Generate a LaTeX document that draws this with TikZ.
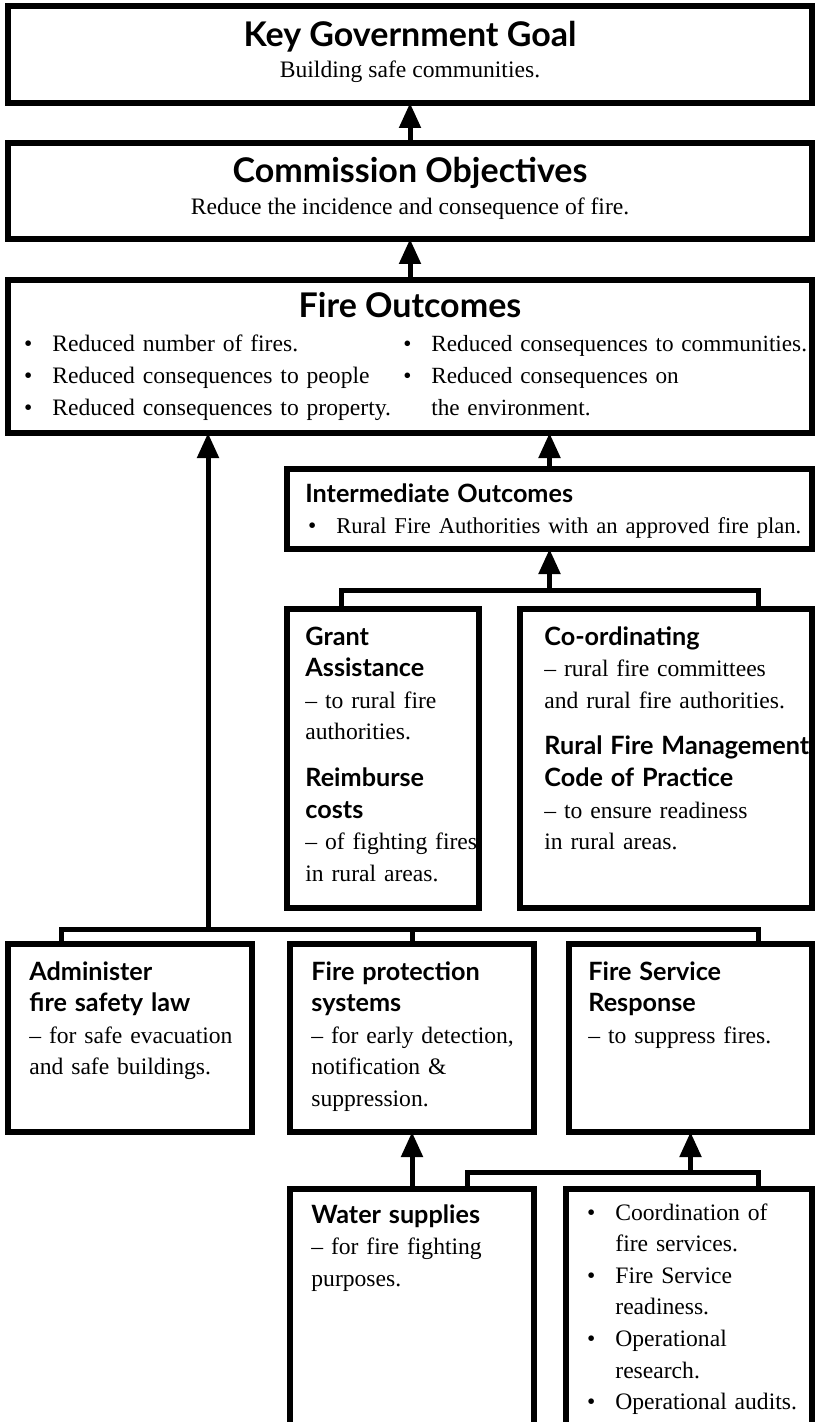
\documentclass[tikz,border=0pt]{standalone}
\usepackage{fontspec}
\setmainfont{Liberation Serif}
\newfontfamily\headfont{Lato}
\usetikzlibrary{arrows.meta,fit}

\newcommand\hd[1]{{\headfont\bfseries\fontsize{12.6}{15.8}\selectfont #1}}
\newcommand\bul{\makebox[0pt][r]{\textbullet\hspace{10pt}}}

\begin{document}
\begin{tikzpicture}[x=0.5pt, y=-0.5pt,
    box/.style={draw, line width=3pt, inner sep=0pt, outer sep=0pt},
    conn/.style={line width=2.5pt},
    arr/.style={conn, -{Triangle[length=12.5pt, width=10.5pt]}},
    bigtitle/.style={font=\headfont\bfseries\fontsize{17}{20}\selectfont, anchor=base, inner sep=0pt},
    centre/.style={font=\fontsize{11.8}{15.8}\selectfont, anchor=base, inner sep=0pt},
    body/.style={font=\fontsize{11.8}{15.8}\selectfont, text width=300pt, align=left, anchor=base west, inner sep=0pt}
]
\clip (0,0) rectangle (816,1422);

% Goal, objectives and outcomes
\node[box, fit={(8,6) (812,103)}] (goal) {};
\node[bigtitle] (goalT) at (410,47) {Key Government Goal};
\node[centre] (goalS) at (410,78) {Building safe communities.};

\node[box, fit={(8,143) (812,239)}] (obj) {};
\node[bigtitle] (objT) at (410,183) {Commission Objectives};
\node[centre] (objS) at (410,215) {Reduce the incidence and consequence of fire.};

\node[box, fit={(8,280) (812,433)}] (outc) {};
\node[bigtitle] (outcT) at (410,318) {Fire Outcomes};
\node[body] (outcL) at (52,352) {\bul Reduced number of fires.\\ \bul Reduced consequences to people\\ \bul Reduced consequences to property.};
\node[body, font=\fontsize{11.6}{15.8}\selectfont] (outcR) at (431,352) {\bul Reduced consequences to communities.\\ \bul Reduced consequences on\\ the environment.};

% Rural fire branch
\node[box, fit={(287,469) (812,549)}] (intm) {};
\node[body] (intmT) at (305,502) {\hd{Intermediate Outcomes}\\ \hspace*{15.5pt}\bul{\fontsize{11.3}{15.8}\selectfont Rural Fire Authorities with an approved fire plan.}};

\node[box, fit={(287,609) (479,908)}] (grant) {};
\node[body] (grantT) at (305,645) {\hd{Grant\\ Assistance}\\ \textendash\ to rural fire\\ authorities.\\[7.5pt] \hd{Reimburse\\ costs}\\ \textendash\ of fighting fires\\ in rural areas.};

\node[box, fit={(520,609) (812,908)}] (coord) {};
\node[body] (coordT) at (544,645) {\hd{Co-ordinating}\\ \textendash\ rural fire committees\\ and rural fire authorities.\\[7.5pt] \hd{Rural Fire Management\\ Code of Practice}\\ \textendash\ to ensure readiness\\ in rural areas.};

% Outputs
\node[box, fit={(8,944) (252,1132)}] (law) {};
\node[body] (lawT) at (29,980) {\hd{Administer\\ fire safety law}\\ \textendash\ for safe evacuation\\ and safe buildings.};

\node[box, fit={(290,944) (534,1132)}] (fpsys) {};
\node[body] (fpsysT) at (311,980) {\hd{Fire protection\\ systems}\\ \textendash\ for early detection,\\ notification \&\\ suppression.};

\node[box, fit={(569,944) (812,1132)}] (resp) {};
\node[body] (respT) at (588,980) {\hd{Fire Service\\ Response}\\ \textendash\ to suppress fires.};

\node[box, fit={(290,1189) (534,1460)}] (water) {};
\node[body] (waterT) at (311,1223) {\hd{Water supplies}\\ \textendash\ for fire fighting\\ purposes.};

\node[box, fit={(566,1189) (812,1460)}] (ops) {};
\node[body] (opsT) at (615,1220) {\bul Coordination of\\ fire services.\\ \bul Fire Service\\ readiness.\\ \bul Operational\\ research.\\ \bul Operational audits.};

% Connectors
\coordinate (j1) at (549.5,590);
\coordinate (j2) at (208,929);
\coordinate (j3) at (690.5,1172);

\draw[arr] (obj.north) -- (goal.south);
\draw[arr] (outc.north) -- (obj.south);
\draw[arr] (intm.north) -- (intm.north |- outc.south);

\draw[conn] ([xshift=27pt]grant.north west) |- (j1) -| ([xshift=-27pt]coord.north east);
\draw[arr] (j1) -- (intm.south);

\draw[conn] ([xshift=26.5pt]law.north west) |- (j2) -| (fpsys.north);
\draw[conn] (j2) -| ([xshift=-27pt]resp.north east);
\draw[arr] (j2) -- (j2 |- outc.south);

\draw[arr] (water.north) -- (fpsys.south);
\draw[conn] ([xshift=-33.5pt]water.north east) |- (j3) -| ([xshift=-27pt]ops.north east);
\draw[arr] (j3) -- (resp.south);
\end{tikzpicture}
\end{document}
